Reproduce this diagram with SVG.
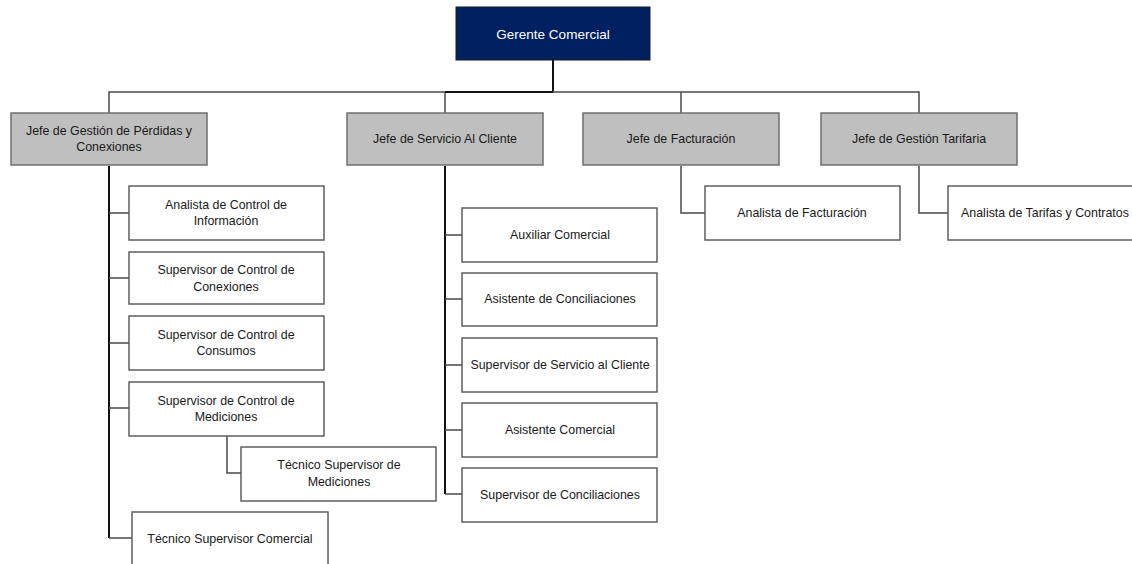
<svg xmlns="http://www.w3.org/2000/svg" width="1132" height="564" viewBox="0 0 1132 564">
<style>
.b{fill:#fff;stroke:#5f5f5f;stroke-width:1.5}
.j{fill:#bfbfbf;stroke:#6f6f6f;stroke-width:1.5}
.g{fill:#002060;stroke:#1a1a1a;stroke-width:1}
text{font-family:"Liberation Sans",Arial,sans-serif;font-size:12.4px;fill:#1a1a1a;text-anchor:middle;dominant-baseline:central}
.w{fill:#fff;font-size:13.5px}
.c{fill:none;stroke:#4a4a4a;stroke-width:1.5}
.k{fill:none;stroke:#111;stroke-width:2}
</style>
<rect width="1132" height="564" fill="#fff"/>
<g id="connectors">
<path class="k" d="M553 60V92"/>
<path class="c" d="M109 113V92H919V113M445 92V113M681 92V113"/>
<path class="k" d="M445 92H553"/>
<path class="k" d="M109 166V538"/>
<path class="c" d="M109 213H129M109 278H129M109 343H129M109 408H129M109 538H132M227 436V473H241"/>
<path class="k" d="M445 166V494"/>
<path class="c" d="M445 235H462M445 299H462M445 365H462M445 430H462M445 494H462"/>
<path class="c" d="M681 166V213H705M919 166V213H948"/>
</g>
<g id="gerente"><rect class="g" x="456" y="7" width="194" height="53"/><text class="w" x="553" y="34">Gerente Comercial</text></g>
<g id="jefe-perdidas"><rect class="j" x="11" y="113" width="196" height="52"/><text x="109" y="131">Jefe de Gestión de Pérdidas y</text><text x="109" y="147">Conexiones</text></g>
<g id="jefe-servicio"><rect class="j" x="347" y="113" width="196" height="52"/><text x="445" y="139">Jefe de Servicio Al Cliente</text></g>
<g id="jefe-facturacion"><rect class="j" x="583" y="113" width="196" height="52"/><text x="681" y="139">Jefe de Facturación</text></g>
<g id="jefe-tarifaria"><rect class="j" x="821" y="113" width="196" height="52"/><text x="919" y="139">Jefe de Gestión Tarifaria</text></g>
<g id="analista-info"><rect class="b" x="129" y="186" width="195" height="54"/><text x="226" y="205">Analista de Control de</text><text x="226" y="221">Información</text></g>
<g id="sup-conexiones"><rect class="b" x="129" y="252" width="195" height="52"/><text x="226" y="270">Supervisor de Control de</text><text x="226" y="287">Conexiones</text></g>
<g id="sup-consumos"><rect class="b" x="129" y="316" width="195" height="54"/><text x="226" y="335">Supervisor de Control de</text><text x="226" y="351">Consumos</text></g>
<g id="sup-mediciones"><rect class="b" x="129" y="382" width="195" height="54"/><text x="226" y="401">Supervisor de Control de</text><text x="226" y="417">Mediciones</text></g>
<g id="tec-mediciones"><rect class="b" x="241" y="447" width="195" height="54"/><text x="339" y="465">Técnico Supervisor de</text><text x="339" y="482">Mediciones</text></g>
<g id="tec-comercial"><rect class="b" x="132" y="512" width="196" height="60"/><text x="230" y="539">Técnico Supervisor Comercial</text></g>
<g id="auxiliar"><rect class="b" x="462" y="208" width="195" height="54"/><text x="560" y="235">Auxiliar Comercial</text></g>
<g id="asist-concil"><rect class="b" x="462" y="273" width="195" height="53"/><text x="560" y="299">Asistente de Conciliaciones</text></g>
<g id="sup-servicio"><rect class="b" x="462" y="338" width="195" height="54"/><text x="560" y="365">Supervisor de Servicio al Cliente</text></g>
<g id="asist-comercial"><rect class="b" x="462" y="403" width="195" height="54"/><text x="560" y="430">Asistente Comercial</text></g>
<g id="sup-concil"><rect class="b" x="462" y="468" width="195" height="54"/><text x="560" y="495">Supervisor de Conciliaciones</text></g>
<g id="analista-fact"><rect class="b" x="705" y="186" width="195" height="54"/><text x="802" y="213">Analista de Facturación</text></g>
<g id="analista-tarifas"><rect class="b" x="948" y="186" width="196" height="54"/><text x="1045" y="213">Analista de Tarifas y Contratos</text></g>
</svg>
